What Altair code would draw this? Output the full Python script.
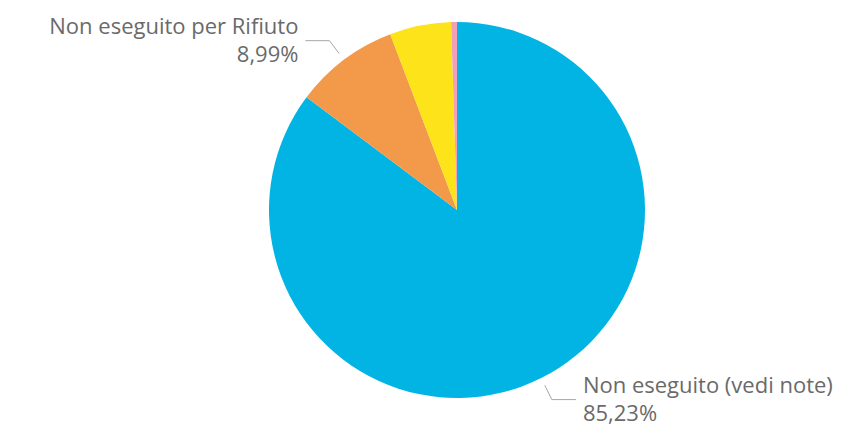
import altair as alt
import pandas as pd

categories = ["Non eseguito (vedi note)", "Non eseguito per Rifiuto", "Altro", "Altro 2"]
values = [85.23, 8.99, 5.28, 0.50]
colors = ["#01B4E4", "#F2994A", "#FCE31A", "#F0A0B8"]
show_label = [1, 1, 0, 0]

df = pd.DataFrame({
    "category": categories,
    "value": values,
    "color": colors,
    "order": list(range(len(categories))),
    "show": show_label,
})

CX, CY, R = 449, 202, 188

base = alt.Chart(df)

pie = base.mark_arc(radius=R).encode(
    theta=alt.Theta("value:Q", stack=True),
    color=alt.Color("color:N", scale=None),
    order=alt.Order("order:Q"),
    x=alt.value(CX),
    y=alt.value(CY),
)

geo = base.transform_joinaggregate(
    total="sum(value)"
).transform_window(
    cum="sum(value)", sort=[alt.SortField("order")], frame=[None, 0]
).transform_calculate(
    a="(datum.cum - datum.value/2)/datum.total*2*PI",
).transform_calculate(
    side="sin(datum.a) < 0 ? -1 : 1",
    x0=f"{CX} + ({R}+8)*sin(datum.a)",
    y0=f"{CY} - ({R}+8)*cos(datum.a)",
    x1=f"{CX} + ({R}+24)*sin(datum.a)",
    y1=f"{CY} - ({R}+24)*cos(datum.a)",
    pct="replace(format(datum.value/datum.total, '.2%'), '.', ',')",
).transform_calculate(
    x2="datum.x1 + datum.side*24",
    xt="datum.x1 + datum.side*31",
    txt="datum.category + '\\n' + datum.pct",
).transform_filter("datum.show == 1")

line_color = "#A6A6A6"
seg1 = geo.mark_rule(color=line_color, strokeWidth=1).encode(
    x=alt.X("x0:Q", scale=None, axis=None),
    y=alt.Y("y0:Q", scale=None, axis=None),
    x2="x1:Q",
    y2="y1:Q",
)
seg2 = geo.mark_rule(color=line_color, strokeWidth=1).encode(
    x=alt.X("x1:Q", scale=None, axis=None),
    y=alt.Y("y1:Q", scale=None, axis=None),
    x2="x2:Q",
    y2="y1:Q",
)

text_style = dict(font="Open Sans", fontSize=22, color="#6A6A6A",
                  lineBreak="\n", lineHeight=28, baseline="middle", dy=-14)
txt_left = geo.transform_filter("datum.side < 0").mark_text(align="right", **text_style).encode(
    x=alt.X("xt:Q", scale=None, axis=None),
    y=alt.Y("y1:Q", scale=None, axis=None),
    text="txt:N",
)
txt_right = geo.transform_filter("datum.side > 0").mark_text(align="left", **text_style).encode(
    x=alt.X("xt:Q", scale=None, axis=None),
    y=alt.Y("y1:Q", scale=None, axis=None),
    text="txt:N",
)

chart = alt.layer(pie, seg1, seg2, txt_left, txt_right).properties(
    width=830, height=417, padding=0, autosize="none"
).configure_view(stroke=None)

chart.save("out.html", embed_options={"renderer": "svg", "actions": False})
